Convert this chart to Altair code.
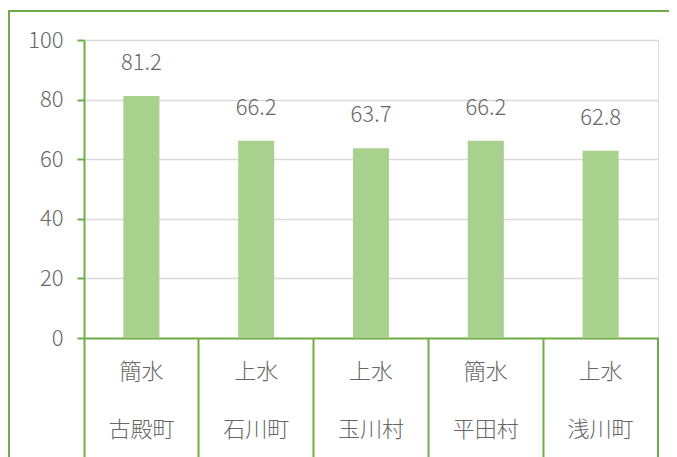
import altair as alt
import pandas as pd

towns = ["古殿町", "石川町", "玉川村", "平田村", "浅川町"]
types = ["簡水", "上水", "上水", "簡水", "上水"]
values = [81.2, 66.2, 63.7, 66.2, 62.8]
y_ticks = [0, 20, 40, 60, 80, 100]

df = pd.DataFrame({"town": towns, "type": types, "value": values})

GREEN = "#70ad47"
BAR = "#a9d18e"
TXT = "#666666"
FONT = "Noto Sans CJK JP"
W, H = 574, 298

xenc = alt.X("town:N", sort=towns,
             scale=alt.Scale(paddingInner=0, paddingOuter=0),
             axis=alt.Axis(title=None, labels=False, bandPosition=0,
                           tickSize=125, tickColor=GREEN, tickWidth=2,
                           domainColor=GREEN, domainWidth=2, grid=False))

base = alt.Chart(df)

bars = base.mark_bar(color=BAR, width={"band": 0.314}).encode(
    x=xenc,
    y=alt.Y("value:Q", scale=alt.Scale(domain=[0, 100]),
            axis=alt.Axis(title=None, values=y_ticks, grid=True,
                          gridColor="#d9d9d9", gridWidth=1.5,
                          domainColor=GREEN, domainWidth=2,
                          tickColor=GREEN, tickWidth=2, tickSize=7,
                          labelPadding=14, labelFontSize=22,
                          labelFontWeight=300,
                          labelColor=TXT, labelFont=FONT)),
)

labels = base.mark_text(baseline="middle", dy=-33, fontSize=22, fontWeight=300,
                        color=TXT, font=FONT).encode(
    x=alt.X("town:N", sort=towns),
    y="value:Q",
    text=alt.Text("value:Q", format=".1f"),
)

row1 = base.mark_text(baseline="middle", fontSize=22, fontWeight=300,
                      color=TXT, font=FONT).encode(
    x=alt.X("town:N", sort=towns),
    y=alt.value(332),
    text="type:N",
)
row2 = base.mark_text(baseline="middle", fontSize=22, fontWeight=300,
                      color=TXT, font=FONT).encode(
    x=alt.X("town:N", sort=towns),
    y=alt.value(390),
    text="town:N",
)

end_rule = alt.Chart(pd.DataFrame({"a": [0]})).mark_rule(color=GREEN, strokeWidth=2).encode(
    x=alt.value(W), y=alt.value(H), y2=alt.value(H + 125)
)

frame = alt.Chart(pd.DataFrame({"a": [0]})).mark_rect(
    fillOpacity=0, stroke=GREEN, strokeWidth=2, clip=False
).encode(
    x=alt.value(-75), x2=alt.value(W + 200),
    y=alt.value(-29), y2=alt.value(H + 200),
)

chart = alt.layer(frame, bars, labels, row1, row2, end_rule).properties(
    width=W, height=H,
    autosize=alt.AutoSizeParams(type="none"),
    padding={"left": 76, "top": 32, "right": 11, "bottom": 119},
).configure_view(stroke=None).configure(background="white")

chart.save("out.html", embed_options={"renderer": "svg", "actions": False})
